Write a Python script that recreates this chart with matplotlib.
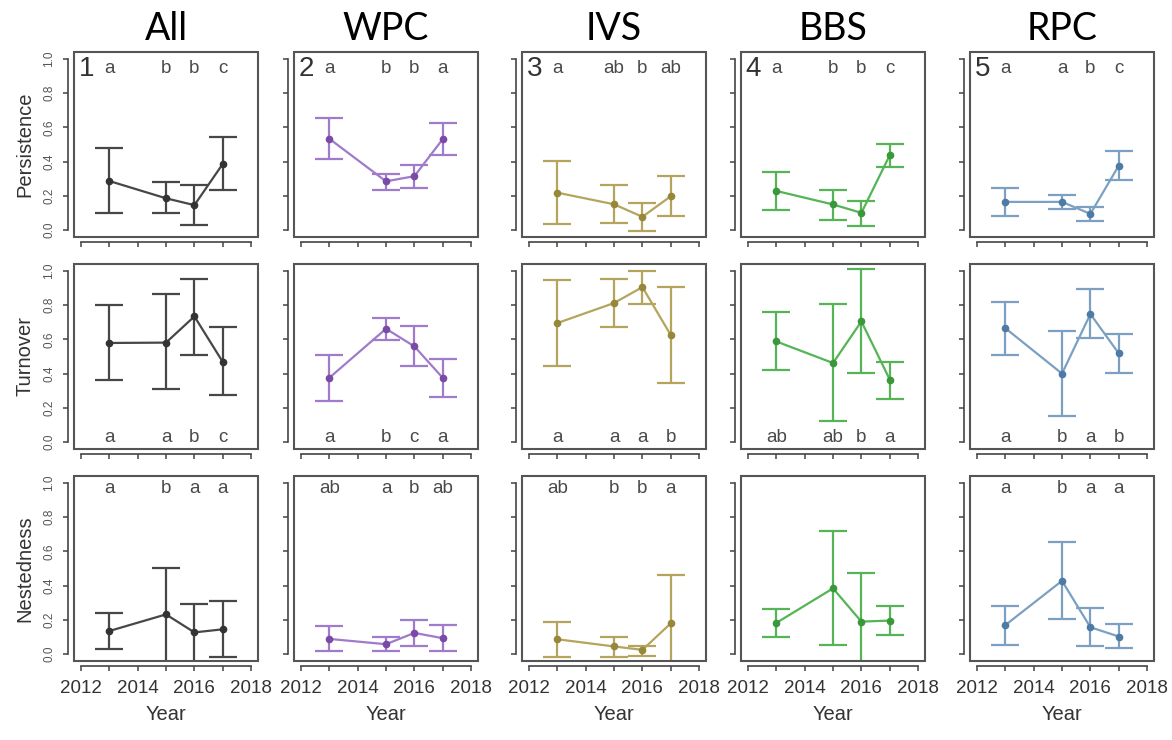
import matplotlib
matplotlib.use("Agg")
import matplotlib.pyplot as plt
from matplotlib.patches import Rectangle

# ---------------- data ----------------
groups = ["All", "WPC", "IVS", "BBS", "RPC"]
metrics = ["Persistence", "Turnover", "Nestedness"]
years = [2013, 2015, 2016, 2017]

# persistence (rows = groups, cols = years)
pers_mean = [[0.287, 0.186, 0.146, 0.387],
             [0.534, 0.285, 0.315, 0.532],
             [0.219, 0.151, 0.078, 0.198],
             [0.229, 0.150, 0.101, 0.438],
             [0.165, 0.165, 0.095, 0.377]]
pers_lo = [[0.098, 0.098, 0.029, 0.234],
           [0.416, 0.237, 0.247, 0.441],
           [0.035, 0.039, -0.004, 0.082],
           [0.118, 0.062, 0.023, 0.370],
           [0.084, 0.126, 0.054, 0.290]]
pers_hi = [[0.482, 0.281, 0.264, 0.541],
           [0.654, 0.330, 0.381, 0.625],
           [0.402, 0.262, 0.161, 0.317],
           [0.342, 0.237, 0.171, 0.504],
           [0.247, 0.204, 0.134, 0.461]]

# turnover
turn_mean = [[0.579, 0.581, 0.734, 0.468],
             [0.375, 0.662, 0.559, 0.375],
             [0.695, 0.812, 0.905, 0.625],
             [0.588, 0.462, 0.705, 0.365],
             [0.666, 0.400, 0.748, 0.518]]
turn_lo = [[0.361, 0.313, 0.511, 0.274],
           [0.243, 0.594, 0.445, 0.266],
           [0.445, 0.670, 0.808, 0.344],
           [0.419, 0.122, 0.404, 0.252],
           [0.509, 0.151, 0.608, 0.404]]
turn_hi = [[0.802, 0.862, 0.951, 0.674],
           [0.509, 0.726, 0.680, 0.485],
           [0.948, 0.951, 1.000, 0.907],
           [0.761, 0.804, 1.010, 0.470],
           [0.821, 0.650, 0.893, 0.631]]

# nestedness
nest_mean = [[0.135, 0.232, 0.127, 0.145],
             [0.089, 0.058, 0.124, 0.093],
             [0.087, 0.045, 0.025, 0.180],
             [0.182, 0.384, 0.190, 0.196],
             [0.169, 0.428, 0.157, 0.103]]
nest_lo = [[0.031, -0.10, -0.10, -0.017],
           [0.016, 0.016, 0.050, 0.016],
           [-0.014, -0.016, -0.010, -0.10],
           [0.099, 0.056, -0.10, 0.114],
           [0.052, 0.205, 0.045, 0.035]]
nest_hi = [[0.239, 0.504, 0.295, 0.309],
           [0.167, 0.099, 0.198, 0.171],
           [0.188, 0.099, 0.048, 0.463],
           [0.262, 0.719, 0.475, 0.283],
           [0.283, 0.653, 0.267, 0.174]]

# significance letters
pers_letters = [["a", "b", "b", "c"], ["a", "b", "b", "a"], ["a", "ab", "b", "ab"],
                ["a", "b", "b", "c"], ["a", "a", "b", "c"]]
turn_letters = [["a", "a", "b", "c"], ["a", "b", "c", "a"], ["a", "a", "a", "b"],
                ["ab", "ab", "b", "a"], ["a", "b", "a", "b"]]
nest_letters = [["a", "b", "a", "a"], ["ab", "a", "b", "ab"], ["ab", "b", "b", "a"],
                ["", "", "", ""], ["a", "b", "a", "a"]]

panel_numbers = ["1", "2", "3", "4", "5"]

# ---------------- style ----------------
line_colors = ["#474747", "#a07acb", "#b5a55c", "#55b455", "#7ba0c2"]
point_colors = ["#333333", "#7a4aa6", "#96873a", "#3a983a", "#4e7ba5"]

W, H = 1172, 740
col_left = [74, 294, 522, 741, 970]
row_top = [52, 264, 476]
box_w, box_h = 184, 185

plt.rcParams['font.family'] = ['Liberation Sans', 'DejaVu Sans']

fig = plt.figure(figsize=(W / 100, H / 100), dpi=100)
fig.patch.set_facecolor("white")

data = [(pers_mean, pers_lo, pers_hi, pers_letters, 0.945),
        (turn_mean, turn_lo, turn_hi, turn_letters, 0.025),
        (nest_mean, nest_lo, nest_hi, nest_letters, 0.968)]

for r in range(3):
    means, los, his, letters, ly = data[r]
    for c in range(5):
        ax = fig.add_axes([col_left[c] / W, 1 - (row_top[r] + box_h) / H,
                           box_w / W, box_h / H])
        ax.set_xlim(2011.76, 2018.24)
        ax.set_ylim(-0.04, 1.04)
        m = means[c]
        lo = los[c]
        hi = his[c]
        yerr = [[m[i] - lo[i] for i in range(4)], [hi[i] - m[i] for i in range(4)]]
        ax.errorbar(years, m, yerr=yerr, color=line_colors[c], lw=1.6,
                    elinewidth=1.6, capsize=10, capthick=1.6,
                    marker="o", ms=4.5, mfc=point_colors[c], mec=point_colors[c],
                    zorder=3)
        for i, yr in enumerate(years):
            ax.text(yr, ly, letters[c][i], ha="center", va="center",
                    fontsize=13.5, color="#4a4a4a")
        if r == 0:
            ax.text(2012.2, 0.94, panel_numbers[c], ha="center", va="center",
                    fontsize=20, color="#333333")

        # R-style axes
        for s in ["top", "right"]:
            ax.spines[s].set_visible(False)
        ax.spines["left"].set_position(("outward", 4.3))
        ax.spines["bottom"].set_position(("outward", 3.6))
        ax.spines["left"].set_bounds(0, 1)
        ax.spines["bottom"].set_bounds(2012, 2018)
        for s in ["left", "bottom"]:
            ax.spines[s].set_color("#444444")
            ax.spines[s].set_linewidth(1.2)
        ax.add_patch(Rectangle((0, 0), 1, 1, transform=ax.transAxes, fill=False,
                               ec="#555555", lw=1.5, clip_on=False, zorder=5))
        ax.set_yticks([0.0, 0.2, 0.4, 0.6, 0.8, 1.0])
        ax.set_xticks(list(range(2012, 2019)))
        ax.tick_params(direction="out", length=3.8, width=1.1, color="#444444")
        ax.tick_params(axis="y", pad=5.5)
        ax.tick_params(axis="x", pad=6)
        if c == 0:
            ax.set_yticklabels(["0.0", "0.2", "0.4", "0.6", "0.8", "1.0"],
                               rotation=90, va="center", fontsize=8.5,
                               color="#555555")
            ax.text(-0.266, 0.5, metrics[r], rotation=90, ha="center",
                    va="center", transform=ax.transAxes, fontsize=14.5,
                    color="#333333")
        else:
            ax.set_yticklabels([])
        if r == 2:
            ax.set_xticklabels(["2012", "", "2014", "", "2016", "", "2018"],
                               fontsize=13.5, color="#333333")
            ax.text(0.5, -0.29, "Year", ha="center", va="center",
                    transform=ax.transAxes, fontsize=14.5, color="#333333")
        else:
            ax.set_xticklabels([])

# column titles
for c in range(5):
    fig.text((col_left[c] + box_w / 2) / W, 1 - 29 / H, groups[c],
             ha="center", va="center", fontsize=27, color="black",
             family=["Lato", "DejaVu Sans"])

fig.savefig("out.png", dpi=100, facecolor="white")
